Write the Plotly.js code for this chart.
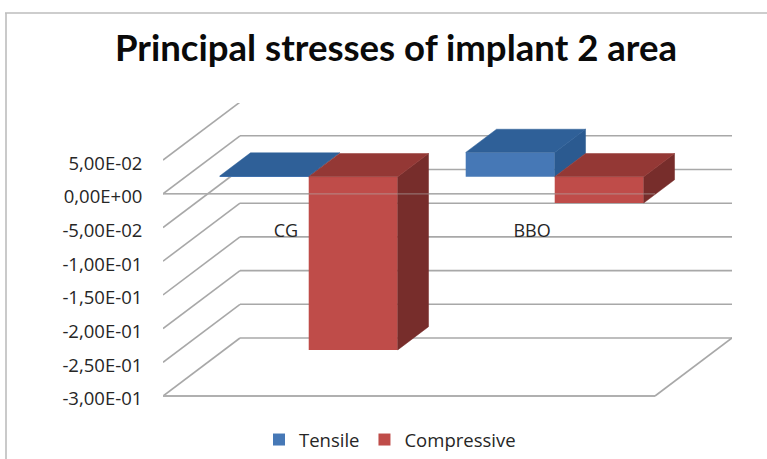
<!DOCTYPE html>
<html><head><meta charset="utf-8">
<script src="https://cdn.plot.ly/plotly-3.0.1.min.js"></script>
<style>html,body{margin:0;padding:0;background:#fff}#c{width:767px;height:459px}</style>
</head><body><div id="c"></div>
<script>
const categories = ['CG', 'BBO'];
const tensile = [0.001, 0.036];
const compressive = [-0.257, -0.039];
const tickValues = [0.05, 0, -0.05, -0.1, -0.15, -0.2, -0.25, -0.3];
const tickLabels = ['5,00E-02', '0,00E+00', '-5,00E-02', '-1,00E-01', '-1,50E-01', '-2,00E-01', '-2,50E-01', '-3,00E-01'];

const W = 767, H = 459;
const mL = 163, mR = 35, mT = 103, mB = 0;
const plotW = W - mL - mR, plotH = H - mT - mB;
const pxPerCat = 246, pxPerVal = 674;
const floorPx = 396;                                    // pixel row of the -0.3 front line
const depthDX = 77 / pxPerCat, depthDY = 58 / pxPerVal; // full floor depth
const barW = 89 / pxPerCat;
const barDepth = 0.4, barFront = 0.295;                 // shares of the floor depth
const xRange = [-0.5, -0.5 + plotW / pxPerCat];
const yMin = -0.3 - (H - mB - floorPx) / pxPerVal;
const yRange = [yMin, yMin + plotH / pxPerVal];
const paperX = p => (p - mL) / plotW, paperY = p => (H - mB - p) / plotH;

const gridColor = '#a8a8a8';
const shapes = [];
const seg = (x0, y0, x1, y1, w, c) => shapes.push({type: 'line', xref: 'x', yref: 'y', layer: 'below',
  x0, y0, x1, y1, line: {color: c || gridColor, width: w || 1.6}});
const xL = xRange[0], xF = xL + 2;
tickValues.forEach(v => {
  seg(xL, v, xL + depthDX, v + depthDY);
  seg(xL + depthDX, v + depthDY, xF + depthDX, v + depthDY);
});
seg(xL, 0, xF, 0);
seg(xL, -0.3, xF, -0.3, 2.2, '#b0b0b0');
seg(xF, -0.3, xF + depthDX, -0.3 + depthDY);
const frame = {color: '#bdbdbd', width: 1.6};
shapes.push({type: 'line', xref: 'paper', yref: 'paper', x0: paperX(5), x1: paperX(W), y0: paperY(13), y1: paperY(13), line: frame});
shapes.push({type: 'line', xref: 'paper', yref: 'paper', x0: paperX(6), x1: paperX(6), y0: paperY(13), y1: paperY(H), line: frame});

const ox = barFront * depthDX, oy = barFront * depthDY; // front-face shift into the floor
const dx = barDepth * depthDX, dy = barDepth * depthDY; // extrusion of each bar

function faces(values, startOffset) {
  const top = {x: [], y: []}, side = {x: [], y: []};
  values.forEach((v, i) => {
    const a = i + startOffset + ox, b = a + barW;
    const hi = Math.max(v, 0) + oy, lo = Math.min(v, 0) + oy;
    top.x.push(a, b, b + dx, a + dx, a, null);
    top.y.push(hi, hi, hi + dy, hi + dy, hi, null);
    side.x.push(b, b + dx, b + dx, b, b, null);
    side.y.push(hi, hi + dy, lo + dy, lo, hi, null);
  });
  return {top, side};
}
const poly = (p, color) => ({type: 'scatter', mode: 'lines', x: p.x, y: p.y, fill: 'toself', fillcolor: color,
  line: {width: 0.5, color}, showlegend: false, hoverinfo: 'skip', cliponaxis: false});
const bar = (name, values, off, color) => ({type: 'bar', name, x: categories.map((c, i) => i), y: values,
  base: values.map(() => oy), width: barW, offset: off + ox, marker: {color, line: {width: 0}}, hoverinfo: 'y+name'});

const fT = faces(tensile, -barW), fC = faces(compressive, 0);
const data = [
  bar('Tensile', tensile, -barW, '#4678b6'),
  bar('Compressive', compressive, 0, '#bf4c49'),
  poly(fT.side, '#2b5a90'), poly(fT.top, '#2f6098'),
  poly(fC.side, '#772d2b'), poly(fC.top, '#943835'),
  {type: 'scatter', mode: 'lines', x: [xL, xF], y: [0, 0], line: {color: 'rgba(175,175,175,0.5)', width: 1.2},
   showlegend: false, hoverinfo: 'skip'}
];

const layout = {
  width: W, height: H,
  margin: {l: mL, r: mR, t: mT, b: mB, pad: 0},
  paper_bgcolor: '#fff', plot_bgcolor: 'rgba(0,0,0,0)',
  barmode: 'overlay',
  title: {text: '<b>Principal stresses of implant 2 area</b>', font: {family: 'Lato', size: 36.6, color: '#0a0a0a'},
    x: 396 / W, xanchor: 'center', y: 1 - 48 / H, yanchor: 'middle'},
  xaxis: {range: xRange, tickvals: categories.map((c, i) => i), ticktext: categories, anchor: 'free',
    position: paperY(218), showgrid: false, zeroline: false, showline: false, ticks: '', ticklen: 0,
    tickfont: {family: 'Open Sans', size: 18, color: '#262626'}},
  yaxis: {range: yRange, tickmode: 'array', tickvals: tickValues, ticktext: tickLabels, showgrid: false, zeroline: false,
    showline: false, ticks: 'outside', ticklen: 16, tickcolor: 'rgba(0,0,0,0)', tickwidth: 0, ticklabelshift: 3,
    tickfont: {family: 'Open Sans', size: 18.5, color: '#262626'}},
  shapes,
  legend: {orientation: 'h', x: paperX(259), xanchor: 'left', y: 0, yanchor: 'bottom',
    font: {family: 'Open Sans', size: 18.5, color: '#262626'}, bgcolor: 'rgba(0,0,0,0)', traceorder: 'normal'}
};
Plotly.newPlot('c', data, layout, {displayModeBar: false, responsive: false});
</script></body></html>
